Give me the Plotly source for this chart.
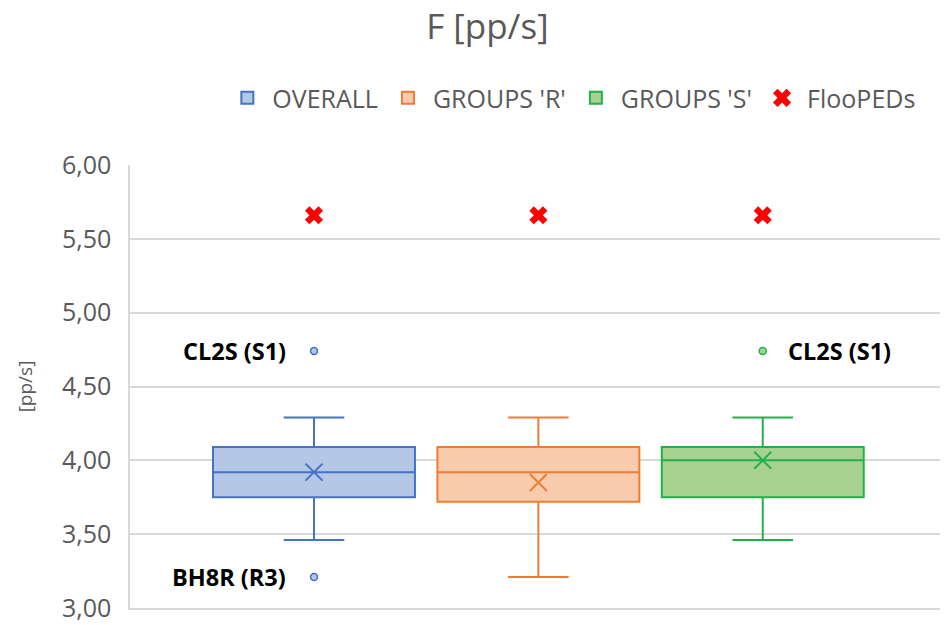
import plotly.graph_objects as go

groups = ["OVERALL", "GROUPS 'R'", "GROUPS 'S'"]
positions = [0, 1, 2]
q1 = [3.75, 3.72, 3.75]
median = [3.92, 3.92, 4.00]
q3 = [4.09, 4.09, 4.09]
lowerfence = [3.46, 3.21, 3.46]
upperfence = [4.29, 4.29, 4.29]
means = [3.92, 3.85, 4.00]
floopeds = [5.66, 5.66, 5.66]

outlier_group = [0, 0, 2]
outlier_values = [4.74, 3.21, 4.74]
outlier_labels = ["CL2S (S1)", "BH8R (R3)", "CL2S (S1)"]

line_colors = ["#4472C4", "#ED7D31", "#21B04B"]
fill_colors = ["#B4C7E7", "#F8CBAD", "#A9D18E"]

FONT = "Open Sans"
fig = go.Figure()

for i, g in enumerate(groups):
    fig.add_trace(go.Box(
        name=g, x=[positions[i]], q1=[q1[i]], median=[median[i]], q3=[q3[i]],
        lowerfence=[lowerfence[i]], upperfence=[upperfence[i]],
        width=0.9, whiskerwidth=0.3, boxpoints=False,
        line=dict(color=line_colors[i], width=2), fillcolor=fill_colors[i],
        hoverinfo="skip",
    ))
    fig.add_trace(go.Scatter(
        x=[positions[i]], y=[means[i]], mode="markers", showlegend=False,
        marker=dict(symbol="x-thin", size=17, line=dict(color=line_colors[i], width=2)),
        hoverinfo="skip",
    ))

for gi, v, lab in zip(outlier_group, outlier_values, outlier_labels):
    fig.add_trace(go.Scatter(
        x=[positions[gi]], y=[v], mode="markers", showlegend=False,
        marker=dict(symbol="circle", size=7, color=fill_colors[gi],
                    line=dict(color=line_colors[gi], width=1.5)),
        hoverinfo="skip",
    ))
    if gi == 0:
        fig.add_annotation(x=positions[gi], y=v, text="<b>" + lab + "</b>", showarrow=False,
                           xanchor="right", xshift=-26, font=dict(family=FONT, size=23.5, color="#000000"))
    else:
        fig.add_annotation(x=positions[gi], y=v, text="<b>" + lab + "</b>", showarrow=False,
                           xanchor="left", xshift=23, font=dict(family=FONT, size=23.5, color="#000000"))

fig.add_trace(go.Scatter(
    name="FlooPEDs", x=positions, y=floopeds, mode="markers",
    marker=dict(symbol="x", size=16, color="#FF0000", line=dict(width=0)),
    hoverinfo="skip",
))

fig.update_layout(
    width=940, height=617,
    margin=dict(l=122, r=8, t=157, b=17, autoexpand=False),
    paper_bgcolor="white", plot_bgcolor="white",
    separators=",.",
    font=dict(family=FONT, color="#595959"),
    title=dict(text="F [pp/s]", x=0.51, xanchor="center", y=0.99, yanchor="top",
               pad=dict(t=0, b=0),
               font=dict(family=FONT, size=35, color="#595959")),
    showlegend=True,
    legend=dict(orientation="h", x=0.114, xanchor="left", y=1.151, yanchor="middle",
                font=dict(family=FONT, size=25, color="#595959"), traceorder="normal",
                itemwidth=40),
    xaxis=dict(range=[-0.82, 2.79], showticklabels=False, showgrid=False, zeroline=False,
               showline=True, linecolor="#D9D9D9", linewidth=1.5, fixedrange=True,
               automargin=False),
    yaxis=dict(range=[3.0, 6.0], dtick=0.5, tickformat=".2f", showgrid=True,
               gridcolor="#D9D9D9", gridwidth=1.5, zeroline=False,
               showline=True, linecolor="#D9D9D9", linewidth=1.5, automargin=False,
               ticks="outside", ticklen=12, tickcolor="rgba(0,0,0,0)",
               tickfont=dict(family=FONT, size=25, color="#595959"),
               title=dict(text="[pp/s]", standoff=24, font=dict(family=FONT, size=19, color="#595959"))),
)

fig.write_html("out.html")
